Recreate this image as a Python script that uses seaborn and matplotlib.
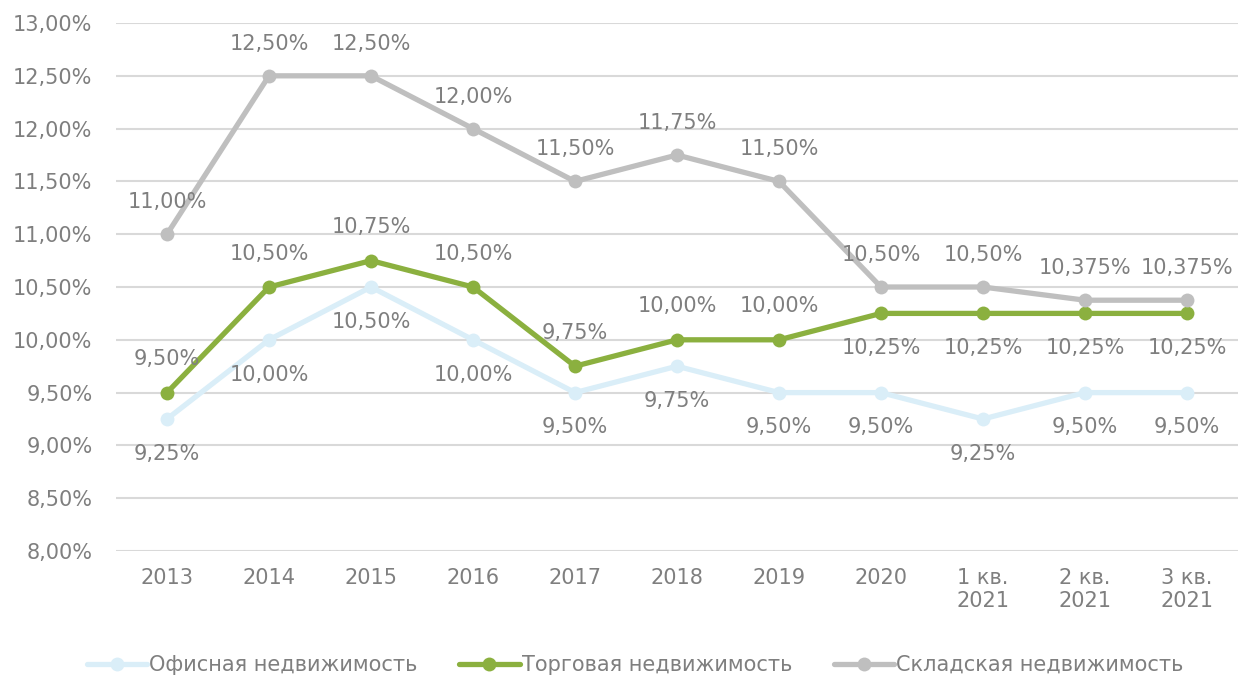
import pandas as pd
import matplotlib
matplotlib.use("Agg")
import matplotlib.pyplot as plt
import seaborn as sns

# Data
periods = ["2013", "2014", "2015", "2016", "2017", "2018", "2019", "2020",
           "1 кв.\n2021", "2 кв.\n2021", "3 кв.\n2021"]
office = [9.25, 10.00, 10.50, 10.00, 9.50, 9.75, 9.50, 9.50, 9.25, 9.50, 9.50]
retail = [9.50, 10.50, 10.75, 10.50, 9.75, 10.00, 10.00, 10.25, 10.25, 10.25, 10.25]
warehouse = [11.00, 12.50, 12.50, 12.00, 11.50, 11.75, 11.50, 10.50, 10.50, 10.375, 10.375]
y_ticks = [8.0, 8.5, 9.0, 9.5, 10.0, 10.5, 11.0, 11.5, 12.0, 12.5, 13.0]

names = ["Офисная недвижимость", "Торговая недвижимость", "Складская недвижимость"]
colors = ["#DAEEF8", "#8BB03F", "#BFBFBF"]
text_grey = "#7F7F7F"

df = pd.DataFrame({
    "pos": list(range(len(periods))) * 3,
    "value": office + retail + warehouse,
    "series": [names[0]] * len(periods) + [names[1]] * len(periods) + [names[2]] * len(periods),
})

sns.set_style("white")
plt.rcParams["font.family"] = ["DejaVu Sans"]

fig = plt.figure(figsize=(12.38, 6.75), dpi=100)
ax = fig.add_axes([0.0937, 0.1837, 0.9063, 0.7822])

sns.lineplot(data=df, x="pos", y="value", hue="series", palette=colors,
             hue_order=names, sort=False, marker="o", markersize=10,
             markeredgewidth=0, linewidth=3.8, ax=ax, legend=False)


def fmt(v):
    if round(v, 2) == v:
        s = f"{v:.2f}"
    else:
        s = f"{v:.3f}"
    return s.replace(".", ",") + "%"


# data labels: warehouse above, office below, retail above until 2019 then below
for i, v in enumerate(warehouse):
    ax.annotate(fmt(v), (i, v), xytext=(0, 23), textcoords="offset points",
                ha="center", va="center", fontsize=15, color=text_grey)
for i, v in enumerate(office):
    ax.annotate(fmt(v), (i, v), xytext=(0, -25), textcoords="offset points",
                ha="center", va="center", fontsize=15, color=text_grey)
for i, v in enumerate(retail):
    dy = 24 if i < 7 else -25
    ax.annotate(fmt(v), (i, v), xytext=(0, dy), textcoords="offset points",
                ha="center", va="center", fontsize=15, color=text_grey)

ax.set_xlim(-0.5, len(periods) - 0.5)
ax.set_ylim(8.0, 13.0)
ax.set_xticks(range(len(periods)))
ax.set_xticklabels(periods)
ax.set_yticks(y_ticks)
ax.set_yticklabels([fmt(t) for t in y_ticks])
ax.set_xlabel("")
ax.set_ylabel("")
ax.tick_params(axis="both", length=0, labelsize=15, colors=text_grey)
ax.tick_params(axis="y", pad=17)
ax.tick_params(axis="x", pad=12)
ax.yaxis.grid(True, color="#D9D9D9", linewidth=1.5)
ax.set_axisbelow(True)
for sp in ax.spines.values():
    sp.set_visible(False)

handles = [plt.Line2D([], [], color=c, linewidth=3.8, marker="o", markersize=10,
                      markeredgewidth=0) for c in colors]
fig.legend(handles, names, loc="center", bbox_to_anchor=(0.513, 0.015), ncol=3,
           frameon=False, fontsize=15, labelcolor=text_grey, handlelength=2.9,
           handletextpad=0.1, columnspacing=2.0)

plt.savefig("out.png", dpi=100)
